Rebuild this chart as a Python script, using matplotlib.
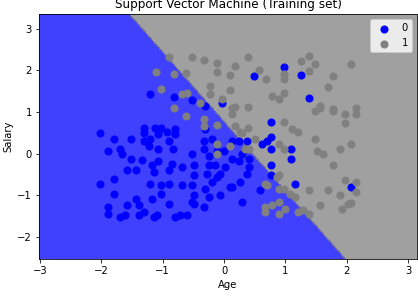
import matplotlib
matplotlib.use('Agg')
import matplotlib.pyplot as plt
import numpy as np
from matplotlib.colors import ListedColormap

# Training points (standardised Age, Salary)
age_0 = [0.49, 0.98, 1.26, 1.38, -1.20, -0.82, -0.52, -0.31, -0.03, -2.02,
         -1.80, -1.89, -1.70, -1.67, -1.51, -1.30, -1.30, -1.13, -1.21, -1.07,
         -0.93, -0.80, -0.80, -0.90, -0.84, -1.07, -1.23, -1.34, -1.43, -1.59,
         -1.18, -1.07, -0.85, -0.69, -0.90, -0.52, -0.49, -0.49, -0.33, -0.33,
         -0.25, -0.25, -0.28, -0.15, -0.07, 0.02, 0.13, 0.25, 0.41, 0.41,
         0.38, 0.26, 0.13, -0.20, -0.31, -0.52, -0.69, -0.90, -1.02, -1.21,
         -2.02, -1.80, -1.80, -1.43, -1.02, -0.49, -0.25, -0.07, 0.13, 0.25,
         0.38, 0.70, 0.77, 0.77, 0.77, 0.77, 0.77, 1.10, 1.10, 1.16,
         0.59, 2.07, -1.89, -1.89, -1.70, -1.62, -1.59, -1.39, -1.39, -1.30,
         -1.15, -1.10, -0.90, -0.80, -0.72, -0.61, -0.49, -0.33, 0.30, -0.11,
         0.10, -0.52, -1.18, -1.15, -1.52, -1.31, -1.02, -0.20, -0.11, 0.00,
         0.30, 0.62, -0.31]
salary_0 = [1.87, 2.09, 1.89, 1.33, 1.43, 1.36, 1.29, 1.14, 1.21, 0.49,
            0.36, 0.05, 0.10, -0.02, 0.36, 0.61, 0.49, 0.61, 0.34, 0.46,
            0.53, 0.58, 0.46, 0.29, 0.12, 0.12, 0.17, -0.15, -0.39, -0.39,
            -0.27, -0.19, -0.24, -0.32, -0.39, 0.00, -0.27, -0.51, 0.29, 0.10,
            -0.07, -0.27, -0.49, -0.27, -0.49, -0.32, -0.12, -0.19, -0.12, -0.32,
            -0.49, -0.68, -0.80, -0.68, -0.85, -0.75, -0.75, -0.73, -0.75, -0.73,
            -0.73, -0.61, -0.97, -1.09, -0.97, -1.00, -1.04, -1.00, 0.29, 0.29,
            0.29, 0.29, 0.75, 0.39, 0.12, -0.27, -0.51, 0.12, -0.12, -0.73,
            -0.87, -0.80, -1.29, -1.46, -1.53, -1.48, -1.24, -1.24, -1.48, -1.41,
            -1.53, -1.48, -1.21, -1.53, -1.48, -1.48, -1.21, -1.29, -1.17, -0.56,
            -0.80, -1.17, -1.09, -0.44, -0.12, 0.29, 0.61, 0.34, 0.05, 0.05,
            -0.02, 0.24, 0.58]

age_1 = [-0.90, -0.52, -0.33, -0.11, 0.18, 0.39, -1.11, -0.82, -0.62, -0.11,
         0.10, 0.57, 0.69, 0.98, 0.98, 1.26, 1.39, 1.48, 1.39, 1.77,
         2.07, 1.70, -1.02, -0.23, 0.10, -0.23, -0.69, -0.61, 0.79, 0.90,
         0.98, -0.03, -0.39, -0.82, -0.62, -0.33, -0.33, -0.11, 0.13, 0.39,
         0.18, 0.18, 0.39, 0.26, 0.51, 0.98, 1.11, 1.20, 1.49, 1.57,
         1.77, 1.97, 1.98, 2.16, 2.16, 1.49, 1.52, 1.61, 1.89, 2.07,
         1.77, 0.90, 0.98, -0.11, -0.11, 0.10, 0.34, 0.67, 0.89, 0.90,
         1.08, 1.39, 1.69, 1.97, 2.15, 2.15, 1.89, 0.67, 0.67, 0.79,
         0.90, 1.00, 1.20, 1.28, 1.39, 1.57, 1.93, 2.02, 2.07, 0.98,
         1.16, 0.87, 0.90, 0.70, 0.30, 0.41, 0.13, 1.57, 1.77]
salary_1 = [2.31, 2.33, 2.26, 2.18, 2.11, 2.33, 1.97, 1.92, 1.94, 1.97,
            1.89, 2.01, 1.80, 1.92, 1.80, 2.23, 2.35, 2.16, 1.99, 1.87,
            2.16, 1.60, 1.55, 1.63, 1.53, 1.43, 1.43, 1.46, 1.38, 1.31,
            1.46, 1.31, 1.21, 1.09, 0.90, 0.83, 0.66, 0.68, 1.09, 1.12,
            1.12, 0.66, 0.61, 0.53, 0.36, 0.75, 0.58, 0.53, 1.02, 1.09,
            1.02, 0.95, 0.73, 1.09, 0.95, 0.36, 0.05, 0.00, 0.12, 0.22,
            -0.27, 0.22, 0.12, 0.24, 0.00, 0.17, 0.12, -0.73, -0.51, -0.85,
            -0.97, -0.87, -0.87, -0.63, -0.68, -0.92, -1.00, -1.29, -1.41, -1.24,
            -1.46, -1.33, -1.41, -1.36, -1.46, -1.24, -1.33, -1.21, -1.19, -0.85,
            -1.04, -0.56, -1.17, -0.75, 0.49, 0.12, 0.95, 1.14, 1.07]

# linear SVM decision function (estimated from the boundary in the picture)
coef = [1.67, 1.0]
intercept = -0.77

X_age = np.array(age_0 + age_1)
X_sal = np.array(salary_0 + salary_1)

X1, X2 = np.meshgrid(np.arange(X_age.min() - 1, X_age.max() + 1, 0.01),
                     np.arange(X_sal.min() - 1, X_sal.max() + 1, 0.01))
Z = (coef[0] * X1 + coef[1] * X2 + intercept > 0).astype(int)

fig = plt.figure(figsize=(418 / 72, 301 / 72), dpi=72)
ax = fig.add_axes([0.093, 0.14, 0.905, 0.813])

cmap = ListedColormap(('blue', 'grey'))
ax.contourf(X1, X2, Z, alpha=0.75, cmap=cmap, levels=[-0.5, 0.5, 1.5])
ax.set_xlim(X1.min(), X1.max())
ax.set_ylim(X2.min(), X2.max())

ax.scatter(age_0, salary_0, c=[cmap(0)], s=50, label='0')
ax.scatter(age_1, salary_1, c=[cmap(1)], s=50, label='1')

ax.set_title('Support Vector Machine (Training set)', fontsize=12)
ax.set_xlabel('Age', fontsize=10)
ax.set_ylabel('Salary', fontsize=10)
ax.tick_params(labelsize=10)
ax.legend(loc='upper right', fontsize=10)

fig.savefig('out.png', dpi=72)
